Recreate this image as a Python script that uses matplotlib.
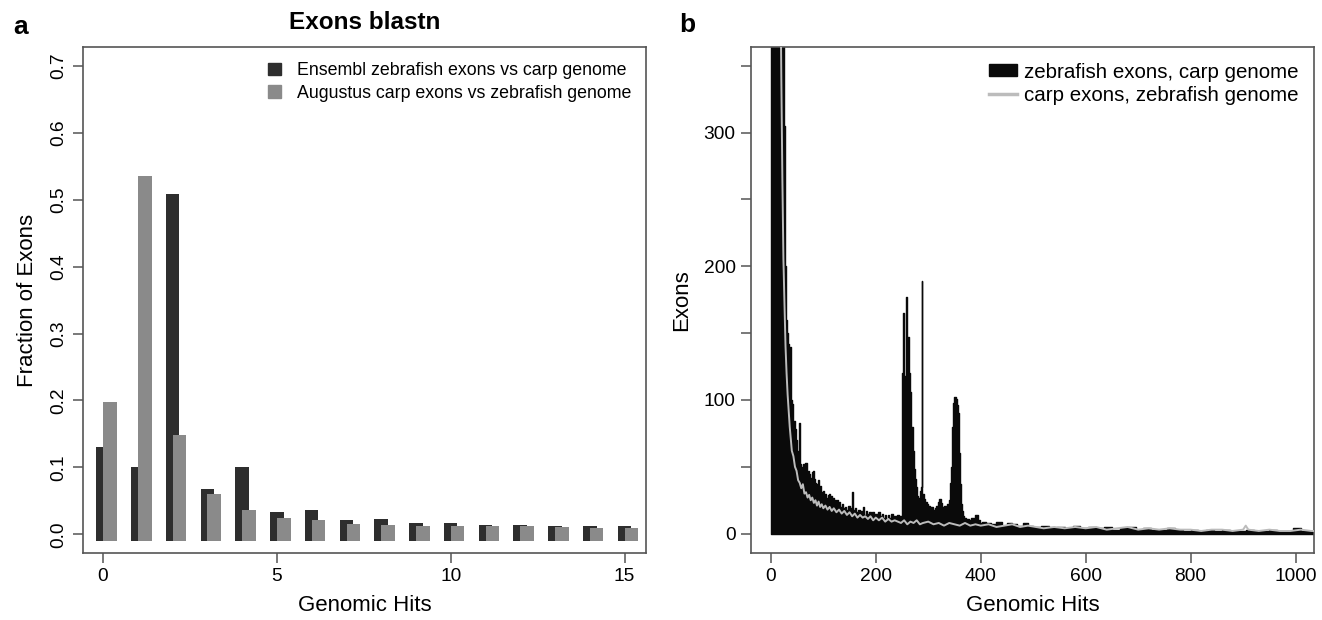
import numpy as np
import matplotlib
matplotlib.use('Agg')
import matplotlib.pyplot as plt
from matplotlib.patches import Patch
from matplotlib.lines import Line2D

plt.rcParams['font.family'] = ['Liberation Sans', 'DejaVu Sans']

# Panel a: fraction of exons per number of genomic hits
hits_a = np.arange(16)
ensembl_frac = [0.131, 0.100, 0.509, 0.068, 0.100, 0.034, 0.037, 0.022,
                0.023, 0.017, 0.017, 0.014, 0.014, 0.013, 0.012, 0.012]
augustus_frac = [0.197, 0.535, 0.148, 0.060, 0.036, 0.025, 0.021, 0.015,
                 0.014, 0.013, 0.012, 0.012, 0.012, 0.011, 0.010, 0.010]

# Panel b: exon counts per number of genomic hits
zf_hits = [1, 5, 10, 15, 20, 24, 26, 27, 28, 29,
           30, 32, 34, 36, 38, 40, 42, 44, 46, 48,
           50, 52, 54, 56, 58, 60, 62, 64, 66, 68,
           70, 72, 74, 76, 78, 80, 82, 84, 86, 88,
           90, 92, 94, 96, 98, 100, 102, 104, 106, 108,
           110, 112, 114, 116, 118, 120, 122, 124, 126, 128,
           130, 132, 135, 138, 141, 144, 147, 150, 153, 155,
           157, 160, 163, 166, 169, 172, 175, 178, 181, 184,
           187, 190, 193, 196, 199, 202, 205, 208, 211, 214,
           217, 220, 223, 226, 229, 232, 235, 238, 241, 244,
           247, 250, 252, 254, 256, 258, 260, 262, 264, 266,
           268, 270, 272, 274, 276, 278, 280, 282, 284, 286,
           288, 289, 291, 294, 297, 300, 303, 306, 309, 312,
           315, 318, 321, 324, 327, 330, 333, 336, 339, 342,
           344, 346, 348, 350, 352, 354, 356, 358, 360, 362,
           364, 366, 368, 372, 377, 382, 387, 390, 394, 398,
           402, 410, 420, 430, 440, 450, 460, 470, 480, 490,
           500, 515, 530, 545, 560, 575, 590, 605, 620, 635,
           650, 665, 680, 695, 710, 725, 740, 755, 770, 785,
           800, 815, 830, 845, 860, 875, 890, 905, 920, 935,
           950, 965, 980, 995, 1010, 1025, 1040]
zf_counts = [2600, 1400, 900, 650, 480, 380, 305, 200, 175, 160,
             150, 142, 138, 140, 100, 97, 82, 84, 78, 70,
             62, 55, 83, 52, 50, 48, 52, 47, 53, 44,
             47, 45, 40, 42, 46, 47, 41, 38, 35, 37,
             40, 33, 36, 31, 29, 32, 28, 30, 27, 29,
             30, 26, 28, 24, 27, 22, 25, 23, 25, 21,
             24, 20, 22, 19, 20, 18, 21, 17, 19, 31,
             18, 19, 16, 18, 15, 17, 20, 14, 17, 15,
             16, 13, 16, 14, 15, 12, 16, 13, 15, 12,
             14, 11, 14, 12, 15, 11, 13, 12, 14, 11,
             13, 120, 165, 118, 110, 177, 145, 147, 120, 106,
             80, 62, 48, 41, 35, 28, 26, 27, 32, 35,
             189, 30, 26, 24, 22, 21, 19, 20, 18, 19,
             21, 24, 26, 23, 20, 21, 19, 22, 25, 38,
             50, 80, 98, 102, 101, 96, 90, 60, 37, 22,
             17, 13, 12, 11, 10, 12, 9, 14, 10, 8,
             9, 8, 7, 9, 6, 8, 7, 6, 8, 6,
             5, 6, 4, 5, 4, 6, 4, 5, 4, 5,
             3, 4, 5, 3, 4, 3, 3, 4, 3, 2,
             3, 2, 3, 2, 3, 2, 2, 3, 2, 2,
             3, 2, 2, 4, 2, 2, 2]

carp_hits = [1, 5, 10, 15, 18, 20, 22, 24, 26, 28,
             30, 32, 34, 36, 38, 40, 43, 46, 49, 52,
             55, 58, 61, 64, 67, 70, 73, 76, 79, 82,
             85, 88, 91, 94, 97, 100, 104, 108, 112, 116,
             120, 125, 130, 135, 140, 145, 150, 155, 160, 165,
             170, 175, 180, 185, 190, 195, 200, 206, 212, 218,
             224, 230, 236, 242, 248, 254, 260, 266, 272, 278,
             284, 290, 300, 310, 320, 330, 340, 350, 360, 370,
             380, 390, 400, 415, 430, 445, 460, 475, 490, 505,
             520, 540, 560, 580, 600, 620, 640, 660, 680, 700,
             720, 740, 760, 780, 800, 820, 840, 860, 880, 900,
             905, 910, 930, 950, 970, 990, 1010, 1030, 1045]
carp_counts = [2100, 1250, 820, 560, 430, 340, 265, 205, 172, 140,
               120, 104, 92, 80, 71, 62, 58, 50, 47, 40,
               38, 34, 37, 30, 31, 27, 29, 25, 27, 23,
               25, 21, 24, 20, 22, 19, 21, 18, 20, 17,
               19, 16, 18, 15, 17, 14, 16, 13, 15, 12,
               14, 12, 13, 11, 13, 10, 12, 10, 12, 9,
               11, 9, 10, 9, 8, 10, 7, 9, 8, 10,
               7, 8, 9, 7, 8, 6, 8, 7, 6, 8,
               6, 7, 6, 7, 5, 6, 7, 5, 6, 5,
               4, 5, 4, 5, 4, 5, 3, 4, 5, 3,
               4, 3, 4, 3, 3, 2, 3, 3, 2, 3,
               6, 3, 2, 3, 2, 2, 3, 2, 2]

dark = '#2e2e2e'
mid = '#8a8a8a'
box = '#555555'

fig = plt.figure(figsize=(13.22, 6.2), dpi=100)
ax1 = fig.add_axes([0.0628, 0.108, 0.4259, 0.816])
ax2 = fig.add_axes([0.568, 0.108, 0.4259, 0.816])

# --- panel a
ens = np.array(ensembl_frac)
aug = np.array(augustus_frac)
ax1.bar(hits_a, ens + 0.01, bottom=-0.01, width=0.39, color=dark, zorder=2)
ax1.bar(hits_a + 0.2, aug + 0.01, bottom=-0.01, width=0.39, color=mid, zorder=3)
ax1.set_xlim(-0.575, 15.62)
ax1.set_ylim(-0.028, 0.728)
ax1.set_xticks([0, 5, 10, 15])
ax1.set_yticks(np.arange(0, 0.71, 0.1))
ax1.set_yticklabels(['%.1f' % v for v in np.arange(0, 0.71, 0.1)],
                    rotation=90, va='center')
ax1.set_xlabel('Genomic Hits', fontsize=16, labelpad=7)
ax1.set_ylabel('Fraction of Exons', fontsize=16, labelpad=9)
ax1.set_title('Exons blastn', fontsize=17.5, fontweight='bold', pad=13)
ax1.legend(handles=[Patch(color=dark, label='Ensembl zebrafish exons vs carp genome'),
                    Patch(color=mid, label='Augustus carp exons vs zebrafish genome')],
           loc='upper right', frameon=False, fontsize=12.8,
           handlelength=0.7, handleheight=0.7, handletextpad=0.9,
           labelspacing=0.3, borderaxespad=0.45)

# --- panel b
ax2.fill_between(zf_hits, zf_counts, 0, step='post', color='#0a0a0a',
                 edgecolor='#0a0a0a', linewidth=1.0, zorder=2)
ax2.plot(carp_hits, carp_counts, color='#bcbcbc', linewidth=1.4, zorder=3)
ax2.set_xlim(-38, 1035)
ax2.set_ylim(-14.5, 364)
ax2.set_xticks([0, 200, 400, 600, 800, 1000])
ax2.set_yticks(np.arange(0, 351, 50))
ax2.set_yticklabels(['0', '', '100', '', '200', '', '300', ''])
ax2.set_xlabel('Genomic Hits', fontsize=16, labelpad=7)
ax2.set_ylabel('Exons', fontsize=16, labelpad=8)
ax2.legend(handles=[Patch(color='#0a0a0a', label='zebrafish exons, carp genome'),
                    Line2D([], [], color='#bcbcbc', linewidth=2.5,
                           label='carp exons, zebrafish genome')],
           loc='upper right', frameon=False, fontsize=14.8,
           handlelength=1.35, handleheight=0.55, handletextpad=0.35,
           labelspacing=0.2, borderaxespad=0.35)

for ax in (ax1, ax2):
    for s in ax.spines.values():
        s.set_color(box)
        s.set_linewidth(1.2)
    ax.tick_params(direction='out', length=7, width=1.1, color=box,
                   labelsize=13.8, pad=4)

fig.text(0.010, 0.956, 'a', fontsize=19, fontweight='bold', va='center')
fig.text(0.514, 0.960, 'b', fontsize=19, fontweight='bold', va='center')

fig.savefig('out.png', dpi=100)
